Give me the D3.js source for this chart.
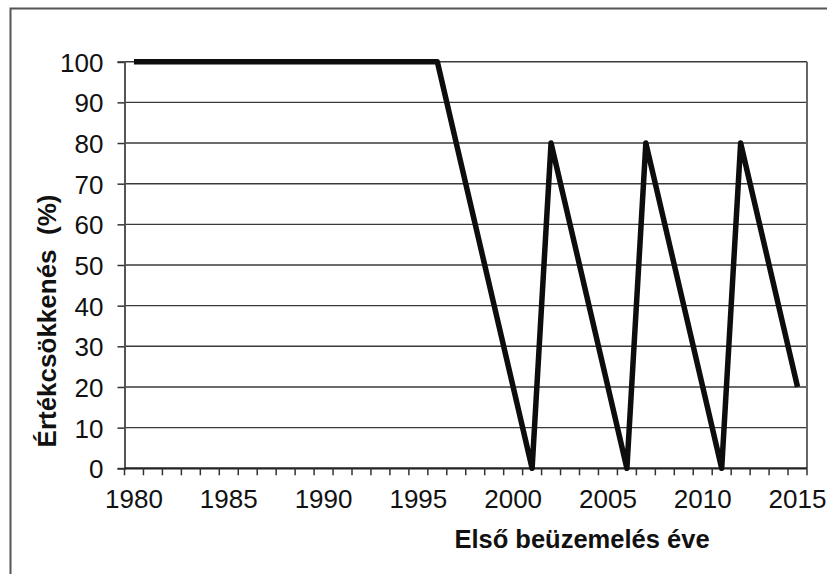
<!DOCTYPE html>
<html>
<head>
<meta charset="utf-8">
<script src="https://cdn.jsdelivr.net/npm/d3@7"></script>
<style>
  body { margin: 0; background: #fff; }
  text { font-family: "Liberation Sans", Arial, sans-serif; fill: #111; }
</style>
</head>
<body>
<svg id="chart"></svg>
<script>
// years (categories) and depreciation values in %
const years = d3.range(1980, 2016);
const values = [
  100, 100, 100, 100, 100, 100, 100, 100, 100, 100,   // 1980-1989
  100, 100, 100, 100, 100, 100, 100, 80, 60, 40,      // 1990-1999
  20, 0, 80, 60, 40, 20, 0, 80, 60, 40,               // 2000-2009
  20, 0, 80, 60, 40, 20                               // 2010-2015
];
const yTicks = [0, 10, 20, 30, 40, 50, 60, 70, 80, 90, 100];
const xLabels = [1980, 1985, 1990, 1995, 2000, 2005, 2010, 2015];

const width = 827;
const height = 574;
const plot = { left: 124.5, right: 807, top: 61.7, bottom: 468.3 };

const svg = d3.select("#chart")
  .attr("width", width)
  .attr("height", height);

// outer frame (only top/left edges visible)
svg.append("rect")
  .attr("x", 10.5).attr("y", 8.5)
  .attr("width", 900).attr("height", 700)
  .attr("fill", "none")
  .attr("stroke", "#555")
  .attr("stroke-width", 2);

// category axis like Excel: points in band centers
const x = d3.scaleBand()
  .domain(years)
  .range([plot.left, plot.right]);

const y = d3.scaleLinear()
  .domain([0, 100])
  .range([plot.bottom, plot.top]);

// gridlines
svg.append("g")
  .selectAll("line")
  .data(yTicks.filter(d => d > 0))
  .join("line")
  .attr("x1", plot.left).attr("x2", plot.right)
  .attr("y1", d => y(d)).attr("y2", d => y(d))
  .attr("stroke", "#3a3a3a")
  .attr("stroke-width", 1.4);

// right plot border
svg.append("line")
  .attr("x1", plot.right).attr("x2", plot.right)
  .attr("y1", plot.top).attr("y2", plot.bottom)
  .attr("stroke", "#666")
  .attr("stroke-width", 2);

// y axis
const yAxis = svg.append("g")
  .attr("transform", `translate(${plot.left},0)`)
  .call(d3.axisLeft(y).tickValues(yTicks).tickSize(7).tickPadding(14));
yAxis.select(".domain").attr("stroke", "#555").attr("stroke-width", 2);
yAxis.selectAll(".tick line").attr("stroke", "#333").attr("stroke-width", 1.5);
yAxis.selectAll(".tick text")
  .attr("font-size", 26)
  .attr("font-family", "Liberation Sans, Arial, sans-serif")
  .attr("fill", "#111")
  .attr("dy", "0.36em");

// x axis: ticks on category boundaries
const boundaries = d3.range(0, years.length + 1).map(i => plot.left + i * x.step());
const xAxisG = svg.append("g");
xAxisG.append("line")
  .attr("x1", plot.left).attr("x2", plot.right)
  .attr("y1", plot.bottom).attr("y2", plot.bottom)
  .attr("stroke", "#222")
  .attr("stroke-width", 2.2);
xAxisG.selectAll("line.tk")
  .data(boundaries)
  .join("line")
  .attr("class", "tk")
  .attr("x1", d => d).attr("x2", d => d)
  .attr("y1", plot.bottom).attr("y2", plot.bottom + 7)
  .attr("stroke", "#333")
  .attr("stroke-width", 1.5);
xAxisG.selectAll("text")
  .data(xLabels)
  .join("text")
  .attr("x", d => x(d) + x.bandwidth() / 2)
  .attr("y", 508)
  .attr("text-anchor", "middle")
  .attr("font-size", 26)
  .text(d => d);

// data line
const line = d3.line()
  .x((d, i) => x(years[i]) + x.bandwidth() / 2)
  .y(d => y(d));

svg.append("path")
  .datum(values)
  .attr("d", line)
  .attr("fill", "none")
  .attr("stroke", "#0d0d0d")
  .attr("stroke-width", 5.5)
  .attr("stroke-linejoin", "round");

// axis titles
svg.append("text")
  .attr("x", 582)
  .attr("y", 548)
  .attr("text-anchor", "middle")
  .attr("font-size", 25.5)
  .attr("font-weight", "bold")
  .text("Első beüzemelés éve");

svg.append("text")
  .attr("transform", "translate(56,321) rotate(-90)")
  .attr("text-anchor", "middle")
  .attr("font-size", 26)
  .attr("font-weight", "bold")
  .style("white-space", "pre")
  .text("Értékcsökkenés  (%)");
</script>
</body>
</html>
